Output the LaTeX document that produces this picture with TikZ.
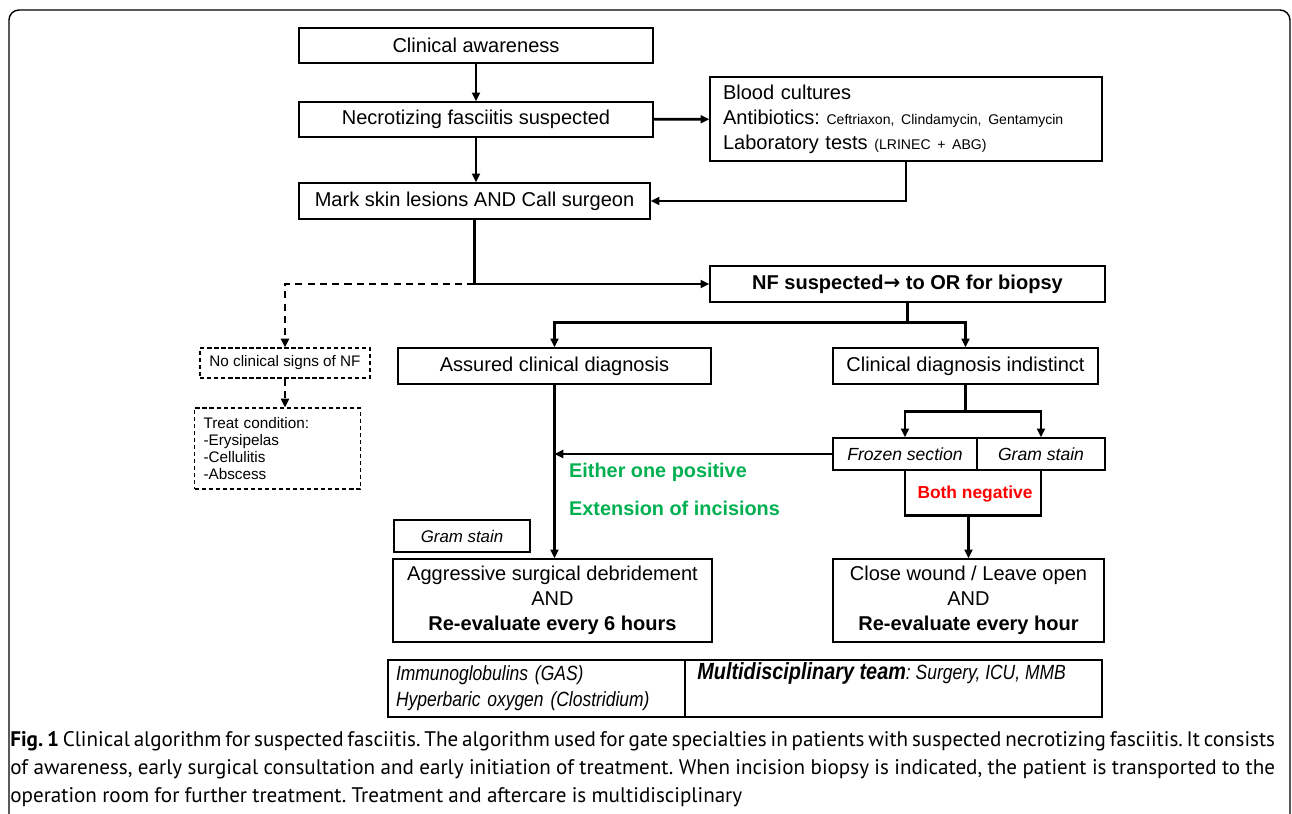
\documentclass[tikz,border=0pt]{standalone}
\usepackage{fontspec}
\setmainfont{Liberation Sans}
\newfontfamily\narrowfont[FakeStretch=0.85]{Liberation Sans}
\newfontfamily\arrowfont{DejaVu Sans}
\newfontfamily\capfont{PT Sans}
\usetikzlibrary{arrows.meta,calc}
\definecolor{PosClr}{RGB}{0,176,80}
\definecolor{NegClr}{RGB}{255,0,0}
\frenchspacing
\newcommand{\mainfs}{\fontsize{11.4}{14.2}\selectfont}
\newcommand{\smallfs}{\fontsize{8.7}{9.5}\selectfont}
\newcommand{\tinyfs}{\fontsize{8.0}{10}\selectfont}
\newcommand{\capfs}{\capfont\fontsize{12.0}{14}\selectfont\spaceskip=0.25em plus 0.3em minus 0.15em}

\tikzset{
  box/.style={draw,line width=0.8pt,inner sep=0pt,align=center,font=\mainfs},
  dbox/.style={draw,line width=0.6pt,dash pattern=on 2.5pt off 1.5pt,inner sep=0pt,font=\smallfs},
  flow/.style={line width=1.5pt,-{Triangle[length=5pt,width=4.5pt]}},
  dflow/.style={flow,dash pattern=on 4pt off 3pt},
  link/.style={line width=1.5pt},
  capline/.style={anchor=base west,inner sep=0pt,font=\capfs}
}

\begin{document}
\begin{tikzpicture}[x=0.02cm,y=-0.02cm]
\useasboundingbox (0,0) rectangle (1292,814);
\draw[line width=0.8pt,rounded corners=0.2cm] (9,816) -- (9,10) -- (1290,10) -- (1290,816);

% main column
\node[box,minimum width=7.08cm,minimum height=0.70cm] (aware) at (476,45.5) {Clinical awareness};
\node[box,minimum width=7.08cm,minimum height=0.70cm] (suspect) at (476,119.5) {Necrotizing fasciitis suspected};
\node[box,align=left,text width=7.32cm,inner xsep=0.26cm,minimum height=1.68cm] (blood) at (906,119)
  {Blood cultures\\ Antibiotics: {\tinyfs Ceftriaxon, Clindamycin, Gentamycin}\\ Laboratory tests {\tinyfs (LRINEC + ABG)}};
\node[box,minimum width=7.02cm,minimum height=0.72cm] (mark) at (474.5,201) {Mark skin lesions AND Call surgeon};
\node[box,minimum width=7.9cm,minimum height=0.72cm,font=\mainfs\bfseries] (nfor) at (907.5,284)
  {NF suspected{\arrowfont\bfseries→} to OR for biopsy};

% no NF
\node[dbox,minimum width=3.4cm,minimum height=0.6cm] (nosign) at (285,363) {No clinical signs of NF};
\node[dbox,align=left,text width=2.96cm,inner xsep=0.18cm,minimum height=1.62cm] (treat) at (277.5,448.5)
  {Treat condition:\\ -Erysipelas\\ -Cellulitis\\ -Abscess};

% branches
\node[box,minimum width=6.26cm,minimum height=0.72cm] (assured) at (554.5,366) {Assured clinical diagnosis};
\node[box,minimum width=5.3cm,minimum height=0.72cm] (indist) at (965.5,366) {Clinical diagnosis indistinct};
\node[box,minimum width=2.88cm,minimum height=0.64cm,font=\fontsize{10}{12}\selectfont\itshape] (frozen) at (905,454) {Frozen section};
\node[box,minimum width=2.56cm,minimum height=0.64cm,font=\fontsize{10}{12}\selectfont\itshape] (gram) at (1041,454) {Gram stain};
\node[box,minimum width=2.72cm,minimum height=0.64cm,font=\fontsize{9.6}{12}\selectfont\itshape] (gramsm) at (462,536) {Gram stain};
\node[box,minimum width=6.38cm,minimum height=1.66cm] (aggr) at (552.5,600.5)
  {Aggressive surgical debridement\\ AND\\ \textbf{Re-evaluate every 6 hours}};
\node[box,minimum width=5.42cm,minimum height=1.66cm] (close) at (968.5,600.5)
  {Close wound / Leave open\\ AND\\ \textbf{Re-evaluate every hour}};

% treatment row
\node[box,align=left,text width=5.62cm,inner xsep=0.16cm,minimum height=1.14cm,font=\narrowfont\fontsize{11.7}{14.7}\selectfont\itshape] (immuno) at (536.5,688.5)
  {Immunoglobulins (GAS)\\ Hyperbaric oxygen (Clostridium)};
\node[box,minimum width=8.34cm,minimum height=1.14cm] (multi) at (893.5,688.5) {};
\node[anchor=base west,inner sep=0pt,font=\narrowfont\itshape] (team) at (697,679)
  {\fontsize{13.3}{15}\selectfont\bfseries Multidisciplinary team\fontsize{11.7}{14}\selectfont\mdseries: Surgery, ICU, MMB};

% connectors
\draw[flow] (aware) -- (suspect);
\draw[flow] (suspect.south) -- (suspect.south |- mark.north);
\draw[flow] (suspect) -- (blood);
\draw[flow] (blood.south) |- (mark.east);
\coordinate (split) at (mark.south |- nfor.west);
\draw[flow] (mark.south) |- (nfor.west);
\draw[dflow] (split) -| (nosign.north);
\draw[dflow] (nosign) -- (nosign |- treat.north);

\draw[link] (nfor.south) -- ++(0,20) coordinate (fork);
\draw[flow] (fork) -| (assured.north);
\draw[flow] (fork) -| (indist.north);
\draw[flow] (assured.south) -- (assured.south |- aggr.north);

\draw[link] (indist.south) -- ++(0,27) coordinate (fork2);
\draw[flow] (fork2) -| (frozen.north);
\draw[flow] (fork2) -| (gram.north);
\draw[flow] (frozen.west) -- (assured.south |- frozen.west);

\draw[link] (frozen.south) -- ++(0,45) coordinate (negL) -| (gram.south);
\draw[flow] (close.north |- negL) -- (close.north);

% labels
\node[anchor=west,font=\fontsize{11.3}{13}\selectfont\bfseries,text=PosClr] (pos) at (563,472) {Either one positive};
\node[anchor=west,font=\fontsize{11.3}{13}\selectfont\bfseries,text=PosClr] (ext) at (563,508) {Extension of incisions};
\node[font=\fontsize{9.9}{12}\selectfont\bfseries,text=NegClr] (neg) at (975,494) {Both negative};

% caption
\node[capline] (cap1) at (10,746)
  {\hbox to 25.3cm{\textbf{Fig. 1} Clinical algorithm for suspected fasciitis. The algorithm used for gate specialties in patients with suspected necrotizing fasciitis. It consists}};
\node[capline] (cap2) at (10,774)
  {\hbox to 25.3cm{of awareness, early surgical consultation and early initiation of treatment. When incision biopsy is indicated, the patient is transported to the}};
\node[capline] (cap3) at (10,802)
  {operation room for further treatment. Treatment and aftercare is multidisciplinary};
\end{tikzpicture}
\end{document}
